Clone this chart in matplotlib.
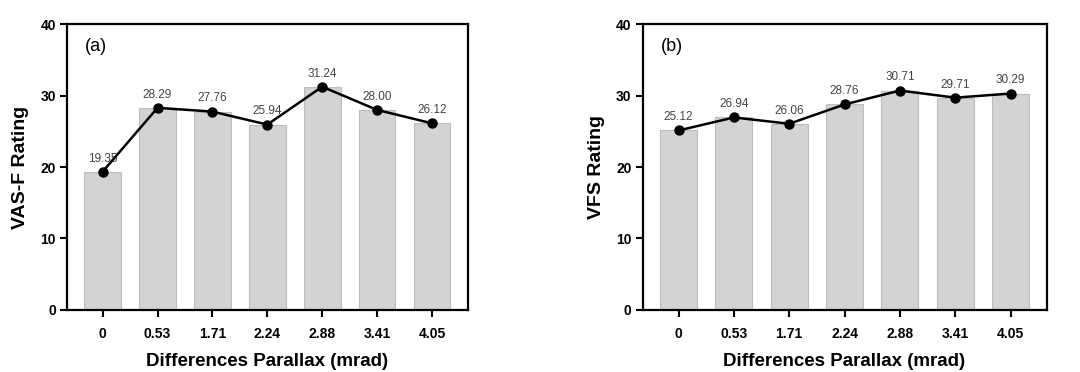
import numpy as np
import matplotlib.pyplot as plt

plt.rcParams['font.family'] = ['Liberation Sans', 'DejaVu Sans']

# data
categories = ['0', '0.53', '1.71', '2.24', '2.88', '3.41', '4.05']
vasf_vals = [19.35, 28.29, 27.76, 25.94, 31.24, 28.00, 26.12]
vfs_vals = [25.12, 26.94, 26.06, 28.76, 30.71, 29.71, 30.29]
vasf_labels = ['19.35', '28.29', '27.76', '25.94', '31.24', '28.00', '26.12']
vfs_labels = ['25.12', '26.94', '26.06', '28.76', '30.71', '29.71', '30.29']

fig = plt.figure(figsize=(10.8, 3.72), dpi=100)
ax1 = fig.add_axes([0.062, 0.167, 0.371, 0.768])
ax2 = fig.add_axes([0.595, 0.167, 0.374, 0.768])


def draw_panel(ax, vals, labels, ylabel, tag):
    x = np.arange(len(categories))
    ax.bar(x, vals, width=0.67, color='#d3d3d3', edgecolor='#bdbdbd', linewidth=0.8, zorder=1)
    ax.plot(x, vals, color='black', lw=1.8, marker='o', ms=6.5, zorder=3)
    for xi, v, lab in zip(x, vals, labels):
        ax.text(xi, v + 1.0, lab, ha='center', va='bottom', fontsize=8.5, color='#444444', zorder=2)
    ax.set_xlim(-0.65, len(categories) - 0.35)
    ax.set_ylim(0, 40)
    ax.set_yticks([0, 10, 20, 30, 40])
    ax.set_xticks(x)
    ax.set_xticklabels(categories)
    for lab in ax.get_xticklabels() + ax.get_yticklabels():
        lab.set_fontweight('bold')
        lab.set_fontsize(10)
    ax.tick_params(axis='x', direction='out', length=5, width=1.5, pad=7)
    ax.tick_params(axis='y', direction='out', length=5, width=1.5, pad=3)
    for s in ax.spines.values():
        s.set_linewidth(1.6)
    ax.set_xlabel('Differences Parallax (mrad)', fontsize=13.5, fontweight='bold', labelpad=9)
    ax.set_ylabel(ylabel, fontsize=14, fontweight='bold', labelpad=8)
    ax.text(0.045, 0.95, tag, transform=ax.transAxes, fontsize=13, va='top', ha='left')


draw_panel(ax1, vasf_vals, vasf_labels, 'VAS-F Rating', '(a)')
draw_panel(ax2, vfs_vals, vfs_labels, 'VFS Rating', '(b)')

fig.savefig('out.png', dpi=100)
